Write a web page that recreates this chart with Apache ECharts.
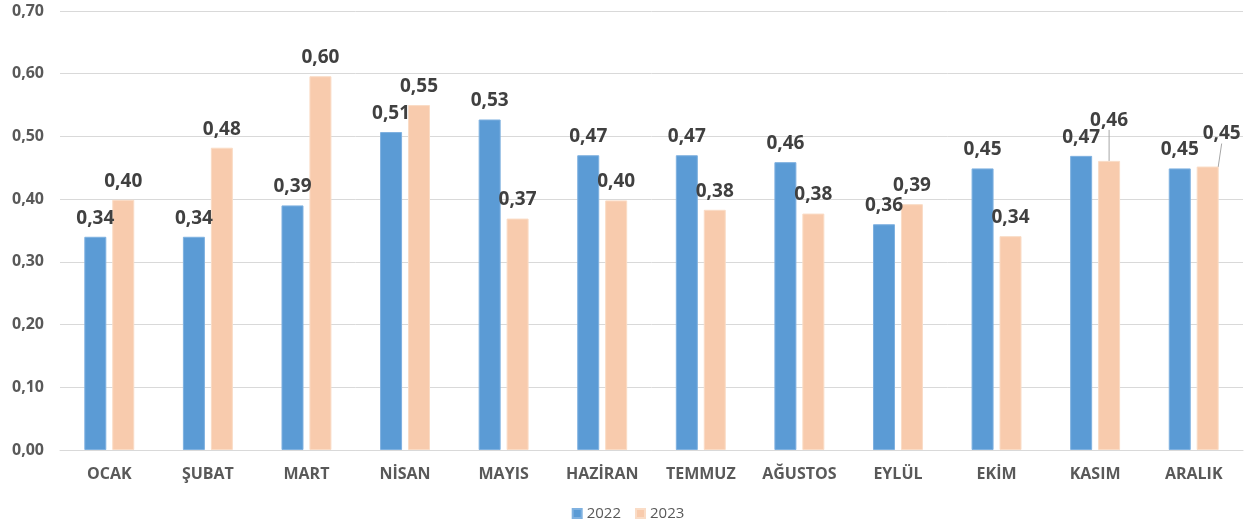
<!DOCTYPE html>
<html><head><meta charset="utf-8">
<script src="https://cdn.jsdelivr.net/npm/echarts@6/dist/echarts.min.js"></script>
<style>html,body{margin:0;padding:0;background:#fff}#c{width:1256px;height:529px}</style>
</head><body><div id="c"></div>
<script>
const categories = ["OCAK","ŞUBAT","MART","NİSAN","MAYIS","HAZİRAN","TEMMUZ","AĞUSTOS","EYLÜL","EKİM","KASIM","ARALIK"];
const values2022 = [0.34,0.34,0.39,0.507,0.527,0.47,0.47,0.459,0.36,0.449,0.469,0.449];
const values2023 = [0.399,0.482,0.596,0.55,0.369,0.398,0.383,0.377,0.392,0.341,0.461,0.452];
const seriesNames = ["2022","2023"];
const yTicks = {min:0, max:0.7, interval:0.1};

const fmt = v => v.toFixed(2).replace('.', ',');
const font = "'Open Sans', 'Noto Sans', sans-serif";
const chart = echarts.init(document.getElementById('c'));
const labelStyle = {show:true, position:'top', distance:9, fontFamily:font, fontWeight:'bold', fontSize:19, color:'#404040',
  formatter: p => fmt(p.value)};
const data2023 = values2023.map((v, i) => (i >= 10 ? {value:v, labelLine:{show:true}} : {value:v}));
chart.setOption({
  animation:false,
  grid:{left:60, right:13, top:11, bottom:79, containLabel:false},
  legend:{bottom:3, left:'center', itemWidth:9, itemHeight:9, itemGap:14, icon:'rect',
    textStyle:{fontFamily:font, fontSize:15, color:'#595959'}, data:seriesNames},
  xAxis:{type:'category', data:categories, axisTick:{show:false},
    axisLine:{lineStyle:{color:'#d9d9d9'}},
    axisLabel:{margin:16, fontFamily:font, fontWeight:'bold', fontSize:16, color:'#595959'}},
  yAxis:{type:'value', min:yTicks.min, max:yTicks.max, interval:yTicks.interval,
    axisLine:{show:false}, axisTick:{show:false},
    splitLine:{lineStyle:{color:'#d9d9d9'}},
    axisLabel:{margin:16, fontFamily:font, fontWeight:'bold', fontSize:16, color:'#595959', formatter: v => fmt(v)}},
  series:[
    {name:seriesNames[0], type:'bar', data:values2022, barWidth:22, barGap:'27%',
     itemStyle:{color:'#5B9BD5', borderColor:'#7fb1e0', borderWidth:1}, label:labelStyle},
    {name:seriesNames[1], type:'bar', data:data2023, barWidth:22,
     itemStyle:{color:'#F8CBAD', borderColor:'#fadcc6', borderWidth:1}, label:labelStyle,
     labelLine:{show:false, lineStyle:{color:'#a6a6a6', width:1}},
     labelLayout: p => {
       if (p.dataIndex === 10) return {dy:-22};
       if (p.dataIndex === 11) return {dx:14, dy:-14};
       return {};
     }}
  ]
});
</script></body></html>
